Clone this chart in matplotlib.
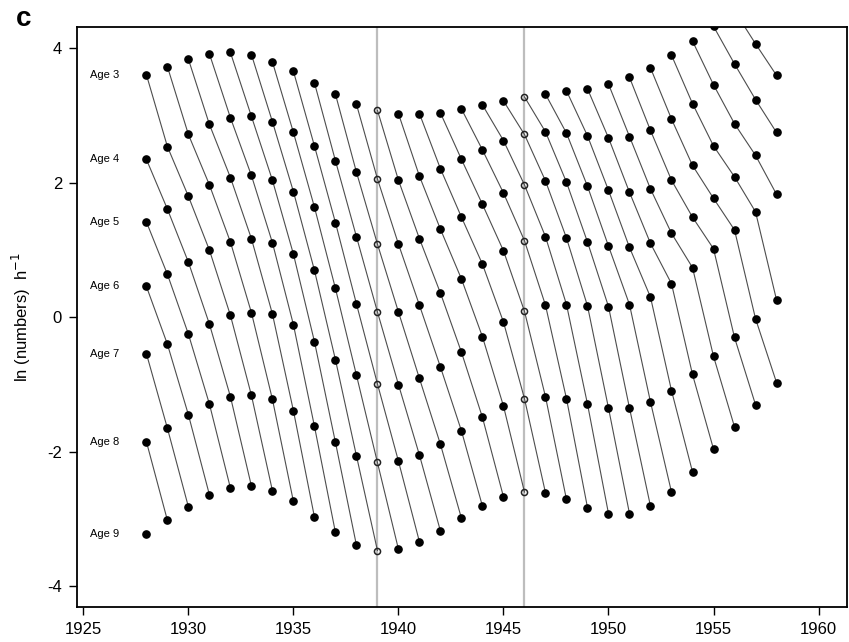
import numpy as np
import matplotlib
matplotlib.use('Agg')
import matplotlib.pyplot as plt

plt.rcParams['font.family'] = ['Liberation Sans', 'DejaVu Sans']
plt.rcParams['axes.unicode_minus'] = False

nan = np.nan

# sampling years
years = list(range(1928, 1959))

# ln(numbers) per hour for each age class (nan = off the top of the plot)
age3 = [3.61, 3.73, 3.84, 3.92, 3.94, 3.91, 3.80, 3.66, 3.49, 3.32, 3.17, 3.08, 3.03, 3.03, 3.04, 3.10,
        3.16, 3.22, 3.28, 3.32, 3.37, 3.40, 3.47, 3.57, 3.71, 3.90, 4.11, 4.33, 4.56, nan, nan]
age4 = [2.35, 2.54, 2.72, 2.87, 2.97, 2.99, 2.91, 2.75, 2.55, 2.33, 2.16, 2.06, 2.04, 2.10, 2.21, 2.35,
        2.49, 2.63, 2.72, 2.76, 2.74, 2.70, 2.67, 2.69, 2.78, 2.95, 3.18, 3.46, 3.77, 4.07, nan]
age5 = [1.42, 1.61, 1.80, 1.97, 2.08, 2.11, 2.04, 1.87, 1.64, 1.41, 1.20, 1.09, 1.09, 1.17, 1.31, 1.49,
        1.68, 1.85, 1.97, 2.03, 2.01, 1.95, 1.89, 1.86, 1.91, 2.04, 2.26, 2.55, 2.88, 3.24, 3.60]
age6 = [0.46, 0.64, 0.82, 1.00, 1.12, 1.17, 1.11, 0.94, 0.70, 0.43, 0.20, 0.08, 0.08, 0.18, 0.36, 0.57,
        0.79, 0.99, 1.14, 1.20, 1.18, 1.12, 1.06, 1.04, 1.10, 1.25, 1.49, 1.77, 2.09, 2.41, 2.75]
age7 = [-0.54, -0.40, -0.25, -0.10, 0.03, 0.07, 0.05, -0.11, -0.36, -0.63, -0.86, -0.99, -1.00, -0.91,
        -0.74, -0.52, -0.29, -0.07, 0.09, 0.18, 0.19, 0.17, 0.16, 0.19, 0.30, 0.50, 0.74, 1.02, 1.30,
        1.57, 1.83]
age8 = [-1.85, -1.65, -1.45, -1.29, -1.18, -1.16, -1.22, -1.39, -1.62, -1.86, -2.06, -2.16, -2.14, -2.05,
        -1.89, -1.69, -1.49, -1.32, -1.21, -1.18, -1.21, -1.29, -1.35, -1.35, -1.26, -1.09, -0.85, -0.58,
        -0.30, -0.02, 0.26]
age9 = [-3.23, -3.02, -2.82, -2.64, -2.54, -2.51, -2.58, -2.74, -2.97, -3.20, -3.39, -3.47, -3.45, -3.34,
        -3.18, -2.99, -2.81, -2.67, -2.60, -2.61, -2.71, -2.83, -2.92, -2.92, -2.81, -2.60, -2.30, -1.96,
        -1.63, -1.30, -0.97]

age_labels = ['Age 3', 'Age 4', 'Age 5', 'Age 6', 'Age 7', 'Age 8', 'Age 9']
gap_years = [1939, 1946]  # marked years (open symbols + grey line)

grid = np.array([age3, age4, age5, age6, age7, age8, age9])
yrs = np.array(years)
n_age, n_year = grid.shape

fig = plt.figure(figsize=(8.49, 6.42), dpi=100)
ax = fig.add_axes([0.0903, 0.054, 0.9077, 0.9035])

for g in gap_years:
    ax.axvline(g, color='#bdbdbd', lw=1.6, zorder=1)

# cohort lines: age a in year y -> age a+1 in year y+1
for c in range(-(n_age - 1), n_year):
    xs, ys = [], []
    for j in range(n_age):
        i = c + j
        if 0 <= i < n_year:
            xs.append(yrs[i])
            ys.append(grid[j, i])
    if len(xs) > 1:
        ax.plot(xs, ys, color='#4d4d4d', lw=0.8, zorder=2)

gap = np.isin(yrs, gap_years)
for j in range(n_age):
    ax.plot(yrs[~gap], grid[j, ~gap], 'o', color='black', ms=5.2, zorder=3)
    ax.plot(yrs[gap], grid[j, gap], 'o', mfc='none', mec='#222222', mew=1.1, ms=4.4, zorder=3)
    ax.text(1926.0, grid[j, 0], age_labels[j], ha='center', va='center', fontsize=8)

ax.set_xlim(1924.68, 1961.37)
ax.set_ylim(-4.315, 4.315)
ax.set_xticks(range(1925, 1961, 5))
ax.set_yticks([-4, -2, 0, 2, 4])
ax.tick_params(direction='out', length=5.5, width=1, labelsize=12, pad=5)
for s in ax.spines.values():
    s.set_linewidth(1.3)

ax.set_ylabel('ln (numbers)  h$^{-1}$', fontsize=12)
ax.yaxis.set_label_coords(-0.057, 0.5)

fig.text(0.019, 0.9595, 'c', fontsize=20, fontweight='bold', va='baseline')

plt.savefig('out.png', dpi=100)
